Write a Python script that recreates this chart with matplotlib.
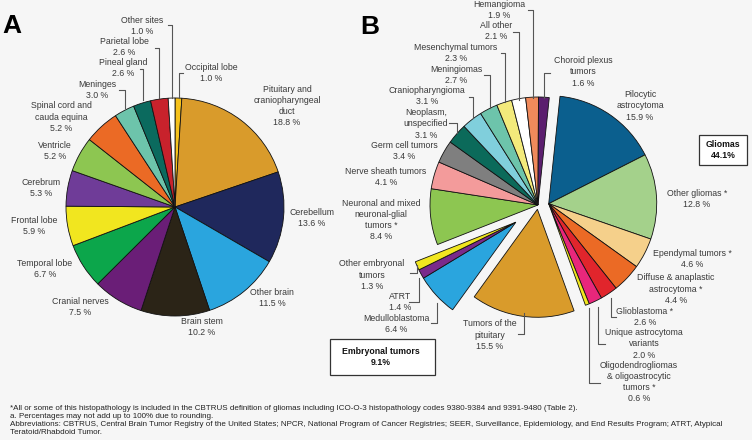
import numpy as np
import matplotlib.pyplot as plt
from matplotlib.patches import Rectangle

plt.rcParams['font.family'] = ['Liberation Sans', 'DejaVu Sans']

# Panel A: sites (clockwise from 12 o'clock)
sites_a = ["Occipital lobe", "Pituitary and\ncraniopharyngeal\nduct", "Cerebellum",
           "Other brain", "Brain stem", "Cranial nerves", "Temporal lobe",
           "Frontal lobe", "Cerebrum", "Ventricle", "Spinal cord and\ncauda equina",
           "Meninges", "Pineal gland", "Parietal lobe", "Other sites"]
pct_a = [1.0, 18.8, 13.6, 11.5, 10.2, 7.5, 6.7, 5.9, 5.3, 5.2, 5.2, 3.0, 2.6, 2.6, 1.0]
colors_a = ["#f6c21c", "#d99b2b", "#1f285c", "#2aa5de", "#2b2417", "#6a1e77",
            "#0ca64b", "#f1e61f", "#6f3c98", "#8dc651", "#eb6a25", "#6dc4ab",
            "#0b6a5e", "#c8222c", "#ffffff"]

# Panel B: histologies (clockwise)
hist_b = ["Pilocytic\nastrocytoma", "Other gliomas *", "Ependymal tumors *",
          "Diffuse & anaplastic\nastrocytoma *", "Glioblastoma *",
          "Unique astrocytoma\nvariants", "Oligodendrogliomas\n& oligoastrocytic\ntumors *",
          "Tumors of the\npituitary", "Medulloblastoma", "ATRT", "Other embryonal\ntumors",
          "Neuronal and mixed\nneuronal-glial\ntumors *", "Nerve sheath tumors",
          "Germ cell tumors", "Neoplasm,\nunspecified", "Craniopharyngioma",
          "Meningiomas", "Mesenchymal tumors", "All other", "Hemangioma",
          "Choroid plexus\ntumors"]
pct_b = [15.9, 12.8, 4.6, 4.4, 2.6, 2.0, 0.6, 15.5, 6.4, 1.4, 1.3, 8.4, 4.1,
         3.4, 3.1, 3.1, 2.7, 2.3, 2.1, 1.9, 1.6]
group_b = ["glioma"] * 7 + ["pituitary"] + ["embryonal"] * 3 + ["other"] * 10
colors_b = ["#0b5f8e", "#a4d18b", "#f5d08b", "#eb6a25", "#e1252c", "#e8277b",
            "#f1e61f", "#d99b2b", "#2aa5de", "#7a2a8b", "#f1e61f", "#8dc651",
            "#f39b9b", "#7f7f7f", "#0b6a5a", "#80cfdc", "#6dc4ab", "#f3ea7b",
            "#ffffff", "#f08a5b", "#5b1e6e"]
explode_by_group = {"glioma": 0.10, "pituitary": 0.04, "embryonal": 0.26, "other": 0.0}

# label positions in pixels (x, y from top)
pos_a = [(211, 73), (287, 106), (312, 218), (272, 298), (202, 327), (80, 307),
         (45, 269), (34, 226), (41, 188), (55, 151), (61, 117), (97, 90),
         (123, 68), (124, 47), (142, 26)]
pos_b = [(640, 106), (697, 199), (692, 259), (676, 289), (645, 317), (644, 344),
         (639, 382), (490, 335), (396, 324), (400, 302), (372, 275), (381, 220),
         (386, 177), (404, 151), (426, 124), (427, 96), (456, 75), (456, 53),
         (496, 31), (499, 10), (583, 72)]
leaders = [
    [(183, 73), (179, 73), (179, 98)],
    [(119, 90), (125, 90), (125, 108)],
    [(140, 69), (142.7, 69), (142.7, 100)],
    [(155, 47.7), (159.3, 47.7), (159.3, 98.5)],
    [(168, 25), (171.7, 25), (171.7, 98)],
    [(528, 10), (532.7, 10), (532.7, 98)],
    [(513, 31.7), (519.3, 31.7), (519.3, 100)],
    [(501, 53.3), (505.3, 53.3), (505.3, 102)],
    [(484.3, 75), (490, 75), (490, 108)],
    [(468.7, 96.7), (473.3, 96.7), (473.3, 118)],
    [(449.3, 123.3), (457.3, 123.3), (457.3, 133)],
    [(550, 72.7), (544.3, 72.7), (544.3, 98)],
    [(616, 316.7), (611, 316.7), (611, 298.3)],
    [(605, 344), (597.7, 344), (597.7, 306.7)],
    [(600, 382.7), (589.3, 382.7), (589.3, 308.3)],
    [(517.7, 334.3), (524.3, 334.3), (524.3, 313.3)],
    [(431, 323.3), (437.3, 323.3), (437.3, 303.3)],
    [(409.3, 301.7), (419.3, 301.7), (419.3, 278.3)],
    [(410, 273.3), (416.7, 273.3), (416.7, 265)],
]

footnotes = [
    "*All or some of this histopathology is included in the CBTRUS definition of gliomas including ICO-O-3 histopathology codes 9380-9384 and 9391-9480 (Table 2).",
    "a. Percentages may not add up to 100% due to rounding.",
    "Abbreviations: CBTRUS, Central Brain Tumor Registry of the United States; NPCR, National Program of Cancer Registries; SEER, Surveillance, Epidemiology, and End Results Program; ATRT, Atypical",
    "Teratoid/Rhabdoid Tumor.",
]

W, H = 752, 440
fig = plt.figure(figsize=(7.52, 4.4), dpi=100)
fig.patch.set_facecolor("#f6f6f6")


def pie_axes(cx, cy, r):
    half = 1.5 * r
    ax = fig.add_axes([(cx - half) / W, (H - cy - half) / H, 2 * half / W, 2 * half / H])
    ax.set_facecolor("none")
    return ax


wedge_style = dict(edgecolor="#111111", linewidth=0.6)

axa = pie_axes(175, 207, 109)
axa.pie(pct_a, colors=colors_a, startangle=90, counterclock=False,
        wedgeprops=wedge_style, frame=False)
axa.set_xlim(-1.5, 1.5)
axa.set_ylim(-1.5, 1.5)
axa.axis("off")

start_b = 84
axb = pie_axes(538, 205, 108)
wedges_b, _ = axb.pie(pct_b, colors=colors_b, startangle=start_b, counterclock=False,
                      wedgeprops=wedge_style, frame=False)
# pull out whole groups as one block
fr = np.array(pct_b) / np.sum(pct_b)
cum = np.concatenate([[0], np.cumsum(fr)])
for g, amt in explode_by_group.items():
    idx = [i for i, gg in enumerate(group_b) if gg == g]
    if amt == 0:
        continue
    mid = 0.5 * (cum[idx[0]] + cum[idx[-1] + 1])
    ang = np.deg2rad(start_b - 360 * mid)
    for i in idx:
        wedges_b[i].set_center((amt * np.cos(ang), amt * np.sin(ang)))
axb.set_xlim(-1.5, 1.5)
axb.set_ylim(-1.5, 1.5)
axb.axis("off")

# overlay in pixel coords for labels
ov = fig.add_axes([0, 0, 1, 1])
ov.set_xlim(0, W)
ov.set_ylim(H, 0)
ov.axis("off")
ov.set_facecolor("none")

txt = dict(fontsize=6.3, color="#3a3a3a", ha="center", va="center",
           multialignment="center", linespacing=1.3)
for name, p, (x, y) in zip(sites_a, pct_a, pos_a):
    ov.text(x, y, f"{name}\n{p:.1f} %", **txt)
for name, p, (x, y) in zip(hist_b, pct_b, pos_b):
    ov.text(x, y, f"{name}\n{p:.1f} %", **txt)

for pts in leaders:
    xs, ys = zip(*pts)
    ov.plot(xs, ys, color="#555555", lw=0.8)

ov.text(2, 14, "A", fontsize=19, fontweight="bold", ha="left", va="top", color="black")
ov.text(360, 15, "B", fontsize=19, fontweight="bold", ha="left", va="top", color="black")

ov.add_patch(Rectangle((699, 135), 48, 30, facecolor="white", edgecolor="#333333", lw=0.9))
ov.text(723, 150, "Gliomas\n44.1%", fontsize=6.3, fontweight="bold", ha="center",
        va="center", linespacing=1.3, color="#111111")
ov.add_patch(Rectangle((330, 339), 105, 36, facecolor="white", edgecolor="#333333", lw=0.9))
ov.text(381, 357, "Embryonal tumors\n9.1%", fontsize=6.3, fontweight="bold", ha="center",
        va="center", linespacing=1.3, color="#111111")

for k, line in enumerate(footnotes):
    ov.text(10, 408 + 8 * k, line, fontsize=5.8, ha="left", va="center", color="#222222")

fig.savefig("out.png", dpi=100, facecolor=fig.get_facecolor())
